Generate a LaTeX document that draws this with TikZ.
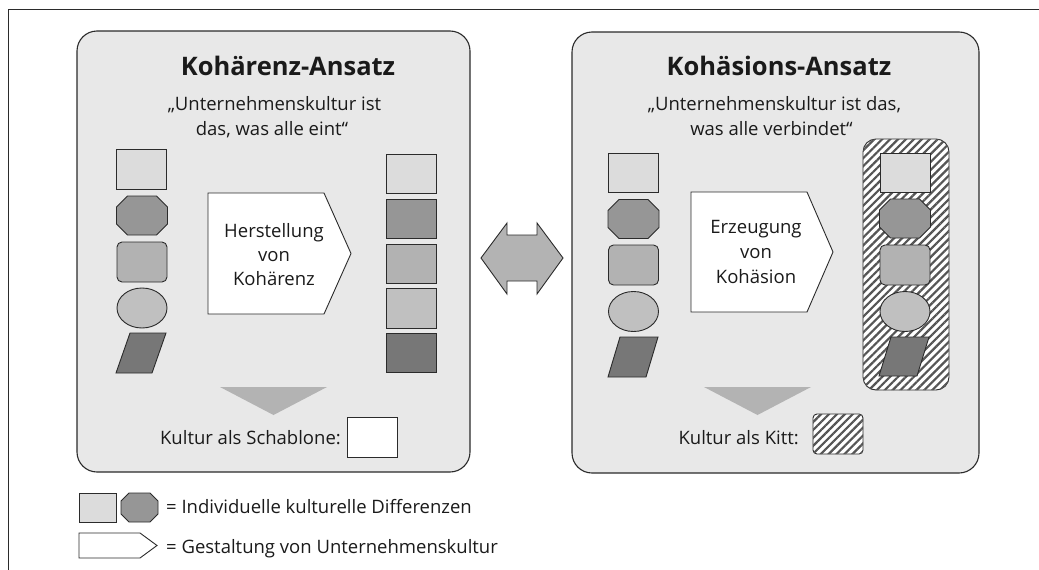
\documentclass[tikz,border=0pt]{standalone}
\usepackage{fontspec}
\setmainfont{Open Sans}
\usetikzlibrary{patterns.meta}
\definecolor{panelc}{HTML}{E8E8E8}
\definecolor{linec}{HTML}{2B2B2B}
\definecolor{txtc}{HTML}{1A1A1A}
\definecolor{ca}{HTML}{DCDCDC}
\definecolor{cb}{HTML}{969696}
\definecolor{cc}{HTML}{B2B2B2}
\definecolor{cd}{HTML}{C0C0C0}
\definecolor{ce}{HTML}{777777}
\definecolor{arrc}{HTML}{B3B3B3}
\definecolor{hatchc}{HTML}{555555}
\newcommand\titlefont{\fontsize{25.5}{30}\selectfont\bfseries}
\newcommand\bodyfont{\fontsize{18.5}{22}\selectfont}
\newcommand\myocta[6]{% cx, cy, half w, half h, cut, fill
  \draw[shp,fill=#6,shift={(#1,#2)}] (-#3+#5,-#4) -- (#3-#5,-#4) -- (#3,-#4+#5) -- (#3,#4-#5)
    -- (#3-#5,#4) -- (-#3+#5,#4) -- (-#3,#4-#5) -- (-#3,-#4+#5) -- cycle;}
\newcommand\mypara[5]{% top-left x, top-right x, bottom-left x, top y, bottom y
  \draw[shp,fill=ce] (#1,#4) -- (#2,#4) -- ({#2-(#1-#3)},#5) -- (#3,#5) -- cycle;}
\begin{document}
\begin{tikzpicture}[x=1pt,y=-1pt,
  shp/.style={draw=linec,line width=0.9pt},
  panelbox/.style={draw=linec,line width=1.1pt,fill=panelc,rounded corners=20pt},
  rbox/.style={shp,minimum width=50pt,minimum height=39.5pt,inner sep=0pt,outer sep=0pt},
  lbl/.style={inner sep=0pt,text=txtc,font=\bodyfont},
  ttl/.style={inner sep=0pt,text=txtc,font=\titlefont},
  hatchfill/.style={fill=white,postaction={pattern={Lines[angle=45,distance=5.6pt,line width=2.2pt]},pattern color=hatchc}}
]
\useasboundingbox (0,0) rectangle (1039,570);
% outer frame
\draw[linec,line width=1pt] (8,570) -- (8,9) -- (1039,9);

% panels
\draw[panelbox] (77,31) rectangle (470,472);
\draw[panelbox] (572,32) rectangle (979,473);

% titles and quotes
\node[ttl,anchor=base] (t1) at (288,75) {Kohärenz-Ansatz};
\node[lbl,anchor=base] (q1a) at (274.5,110) {„Unternehmenskultur ist};
\node[lbl,anchor=base] (q1b) at (272,135) {das, was alle eint“};
\node[ttl,anchor=base] (t2) at (779,75) {Kohäsions-Ansatz};
\node[lbl,anchor=base] (q2a) at (774.5,110) {„Unternehmenskultur ist das,};
\node[lbl,anchor=base] (q2b) at (771.5,135) {was alle verbindet“};

% left panel, input column
\node[rbox,fill=ca] (la1) at (141.5,169.5) {};
\myocta{142}{215.5}{25.5}{19.5}{11}{cb}
\draw[shp,fill=cc,rounded corners=5pt] (117,242) rectangle (167,282);
\draw[shp,fill=cd] (142,308) ellipse [x radius=25, y radius=20];
\mypara{130}{166}{116}{333}{373}

% left pentagon
\draw[shp,fill=white] (208,193) -- (324,193) -- (351,253.5) -- (324,314) -- (208,314) -- cycle;
\node[lbl,anchor=base] (p1a) at (274,237) {Herstellung};
\node[lbl,anchor=base] (p1b) at (274,261) {von};
\node[lbl,anchor=base] (p1c) at (274,285) {Kohärenz};

% left panel, output column
\node[rbox,fill=ca] (lb1) at (411,174) {};
\node[rbox,fill=cb] (lb2) at (411,219) {};
\node[rbox,fill=cc] (lb3) at (411,264) {};
\node[rbox,fill=cd] (lb4) at (411,308.5) {};
\node[rbox,fill=ce] (lb5) at (411,353) {};

% left triangle and result
\fill[arrc] (220,387) -- (327,387) -- (273.5,415) -- cycle;
\node[lbl,anchor=base east] (k1) at (341,444) {Kultur als Schablone:};
\draw[shp,fill=white] (347,417) rectangle (397,457);

% double arrow
\draw[shp,fill=arrc] (481,258) -- (507,223) -- (507,235) -- (537,235) -- (537,223) -- (563,258)
  -- (537,294) -- (537,281) -- (507,281) -- (507,294) -- cycle;

% right panel, input column
\node[rbox,fill=ca] (ra1) at (633.5,173) {};
\myocta{633.5}{219}{25.5}{19.5}{11}{cb}
\draw[shp,fill=cc,rounded corners=5pt] (608.5,245) rectangle (658.5,285);
\draw[shp,fill=cd] (633.5,311.5) ellipse [x radius=25, y radius=20];
\mypara{620}{658}{608}{337}{377}

% right pentagon
\draw[shp,fill=white] (691,192) -- (807,192) -- (833,252) -- (807,312) -- (691,312) -- cycle;
\node[lbl,anchor=base] (p2a) at (756,233) {Erzeugung};
\node[lbl,anchor=base] (p2b) at (756,258) {von};
\node[lbl,anchor=base] (p2c) at (756,283) {Kohäsion};

% hatched container
\draw[shp,hatchfill,rounded corners=13pt] (863,139) rectangle (949,390);
\node[rbox,fill=ca] (rb1) at (905,173) {};
\myocta{905}{218.5}{25.5}{19.5}{11}{cb}
\draw[shp,fill=cc,rounded corners=5pt] (880,245) rectangle (930,285);
\draw[shp,fill=cd] (905,311.5) ellipse [x radius=25, y radius=20];
\mypara{891}{929}{879}{337}{376}

% right triangle and result
\fill[arrc] (704,387) -- (811,387) -- (757.5,415) -- cycle;
\node[lbl,anchor=base east] (k2) at (799,444) {Kultur als Kitt:};
\draw[shp,hatchfill,rounded corners=4pt] (813,414) rectangle (863,454);

% legend
\draw[shp,fill=ca] (79,493) rectangle (116,522);
\myocta{139.5}{507.5}{18.5}{14.5}{8}{cb}
\node[lbl,anchor=base west] (lg1) at (166,513) {= Individuelle kulturelle Differenzen};
\draw[shp,fill=white] (79,533) -- (140,533) -- (157,545.5) -- (140,558) -- (79,558) -- cycle;
\node[lbl,anchor=base west] (lg2) at (166,553) {= Gestaltung von Unternehmenskultur};
\end{tikzpicture}
\end{document}
